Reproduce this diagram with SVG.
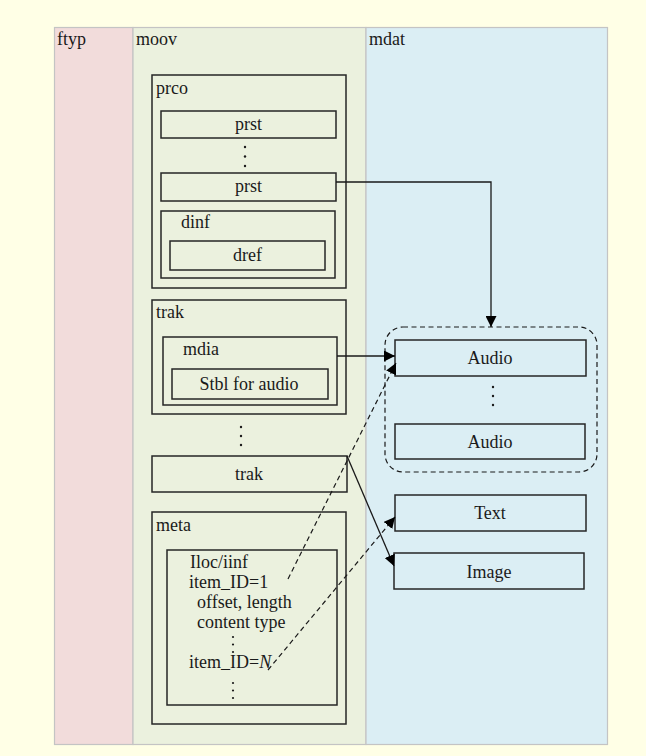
<svg xmlns="http://www.w3.org/2000/svg" width="646" height="756" viewBox="0 0 646 756">
  <style>
    text { font-size: 18px; fill: #1a1a1a; }
    .c { text-anchor: middle; }
    .box { fill: none; stroke: #262626; stroke-width: 1.5; }
    .panel { stroke: #c4c4c4; stroke-width: 1.2; }
    .line { fill: none; stroke: #1a1a1a; stroke-width: 1.3; }
    .dash { fill: none; stroke: #1a1a1a; stroke-width: 1.2; stroke-dasharray: 5 3.5; }
    .dot { fill: #1a1a1a; }
  </style>
  <defs>
    <marker id="arrow" viewBox="0 0 10 10" refX="10" refY="5" markerWidth="11" markerHeight="11" markerUnits="userSpaceOnUse" orient="auto">
      <path d="M0,0 L10,5 L0,10 Z" fill="#000"/>
    </marker>
  </defs>

  <!-- page background -->
  <rect x="0" y="0" width="646" height="756" fill="#ffffe6"/>

  <g font-family="Liberation Serif, Tinos, DejaVu Serif, serif">
  <!-- file-level boxes -->
  <g id="ftyp">
    <rect class="panel" x="54.5" y="27.5" width="78.5" height="717" fill="#f2dcdb"/>
    <text x="57" y="45">ftyp</text>
  </g>
  <g id="moov">
    <rect class="panel" x="133" y="27.5" width="233" height="717" fill="#ebf1de"/>
    <text x="136" y="45">moov</text>
  </g>
  <g id="mdat">
    <rect class="panel" x="366" y="27.5" width="241.5" height="717" fill="#dbeef4"/>
    <text x="369" y="45">mdat</text>
  </g>

  <!-- prco -->
  <g id="prco">
    <rect class="box" x="152" y="75" width="194" height="213"/>
    <text x="156" y="94">prco</text>
  </g>
  <g id="prst1">
    <rect class="box" x="161" y="111" width="175" height="27"/>
    <text class="c" x="248.5" y="130">prst</text>
  </g>
  <g id="prst-dots">
    <circle class="dot" cx="245" cy="147" r="1.2"/>
    <circle class="dot" cx="245" cy="156.5" r="1.2"/>
    <circle class="dot" cx="245" cy="166" r="1.2"/>
  </g>
  <g id="prst2">
    <rect class="box" x="161" y="173" width="175" height="28"/>
    <text class="c" x="248.5" y="192">prst</text>
  </g>
  <g id="dinf">
    <rect class="box" x="161" y="211" width="174" height="67"/>
    <text x="181" y="228">dinf</text>
  </g>
  <g id="dref">
    <rect class="box" x="170" y="241" width="155" height="29"/>
    <text class="c" x="247.5" y="261">dref</text>
  </g>

  <!-- first trak -->
  <g id="trak1">
    <rect class="box" x="152" y="300" width="194" height="114"/>
    <text x="156" y="318">trak</text>
  </g>
  <g id="mdia">
    <rect class="box" x="163" y="337" width="174" height="68"/>
    <text x="183" y="355">mdia</text>
  </g>
  <g id="stbl">
    <rect class="box" x="172" y="369" width="156" height="30"/>
    <text class="c" x="249" y="390">Stbl for audio</text>
  </g>
  <g id="trak-dots">
    <circle class="dot" cx="241" cy="427" r="1.2"/>
    <circle class="dot" cx="241" cy="436" r="1.2"/>
    <circle class="dot" cx="241" cy="445" r="1.2"/>
  </g>

  <!-- last trak -->
  <g id="trak2">
    <rect class="box" x="152" y="456" width="195" height="36"/>
    <text class="c" x="249" y="480">trak</text>
  </g>

  <!-- meta -->
  <g id="meta">
    <rect class="box" x="152" y="512" width="194" height="212"/>
    <text x="156" y="531">meta</text>
  </g>
  <g id="iloc">
    <rect class="box" x="167" y="550" width="170" height="155"/>
    <text x="190" y="568">Iloc/iinf</text>
    <text x="189" y="588">item_ID=1</text>
    <text x="197" y="608">offset, length</text>
    <text x="197" y="628">content type</text>
    <circle class="dot" cx="233" cy="637" r="1.1"/>
    <circle class="dot" cx="233" cy="644.5" r="1.1"/>
    <circle class="dot" cx="233" cy="652" r="1.1"/>
    <text x="189" y="668">item_ID=<tspan font-style="italic">N</tspan></text>
    <circle class="dot" cx="233" cy="683" r="1.1"/>
    <circle class="dot" cx="233" cy="690.5" r="1.1"/>
    <circle class="dot" cx="233" cy="698" r="1.1"/>
  </g>

  <!-- media data -->
  <g id="audio-group">
    <rect x="385" y="327" width="212" height="145" rx="18" ry="18" fill="none" stroke="#1a1a1a" stroke-width="1.2" stroke-dasharray="5 3.5"/>
  </g>
  <g id="audio1">
    <rect class="box" x="395" y="340" width="191" height="36"/>
    <text class="c" x="490" y="364">Audio</text>
  </g>
  <g id="audio-dots">
    <circle class="dot" cx="493" cy="387" r="1.2"/>
    <circle class="dot" cx="493" cy="396" r="1.2"/>
    <circle class="dot" cx="493" cy="405" r="1.2"/>
  </g>
  <g id="audio2">
    <rect class="box" x="395" y="424" width="190" height="35"/>
    <text class="c" x="490" y="448">Audio</text>
  </g>
  <g id="text-sample">
    <rect class="box" x="395" y="495" width="191" height="36"/>
    <text class="c" x="490" y="519">Text</text>
  </g>
  <g id="image-sample">
    <rect class="box" x="394" y="553" width="190" height="36"/>
    <text class="c" x="489" y="578">Image</text>
  </g>
  </g>

  <!-- connectors -->
  <g id="connectors">
    <polyline class="line" points="336,182 491,182 491,327" marker-end="url(#arrow)"/>
    <line class="line" x1="337" y1="356" x2="395" y2="356" marker-end="url(#arrow)"/>
    <line class="line" x1="347" y1="456" x2="394" y2="566" marker-end="url(#arrow)"/>
    <line class="dash" x1="288" y1="579" x2="396" y2="363" marker-end="url(#arrow)"/>
    <line class="dash" x1="268" y1="670" x2="395" y2="517" marker-end="url(#arrow)"/>
  </g>
</svg>
